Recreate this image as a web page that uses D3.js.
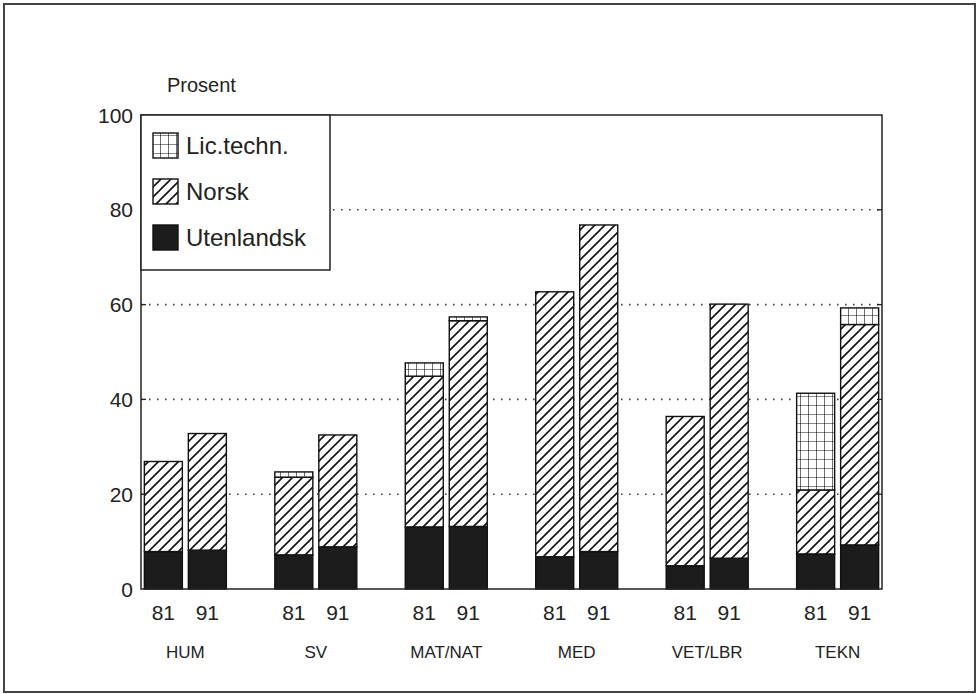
<!DOCTYPE html>
<html><head><meta charset="utf-8">
<script src="https://cdn.jsdelivr.net/npm/d3@7"></script>
<style>body{margin:0;background:#fff}svg{display:block}text{font-family:"Liberation Sans",Arial,sans-serif;fill:#222}</style>
</head><body>
<script>
const groups = ["HUM","SV","MAT/NAT","MED","VET/LBR","TEKN"];
const years = ["81","91"];
// order: group x year
const utenlandsk = [7.9, 8.2, 7.2, 8.9, 13.1, 13.2, 6.8, 7.9, 4.9, 6.5, 7.4, 9.3];
const norsk      = [19.0, 24.6, 16.4, 23.6, 31.8, 43.4, 55.9, 68.9, 31.5, 53.6, 13.5, 46.5];
const lic        = [0, 0, 1.1, 0, 2.8, 0.8, 0, 0, 0, 0, 20.4, 3.5];
const yTicks = [0, 20, 40, 60, 80, 100];
const gridTicks = [20, 40, 60, 80];
const seriesNames = ["Utenlandsk","Norsk","Lic.techn."];
const legendOrder = ["Lic.techn.","Norsk","Utenlandsk"];

const W = 977, H = 694;
const L = 141, R = 882, T = 115, B = 589;
const svg = d3.select("body").append("svg").attr("width", W).attr("height", H);
const defs = svg.append("defs");
const hp = 10;
const hatch = defs.append("pattern").attr("id","hatch").attr("patternUnits","userSpaceOnUse").attr("width",hp).attr("height",hp);
hatch.append("rect").attr("width",hp).attr("height",hp).attr("fill","#fff");
hatch.append("path").attr("d",`M-1,1 L1,-1 M0,${hp} L${hp},0 M${hp-1},${hp+1} L${hp+1},${hp-1}`).attr("stroke","#111").attr("stroke-width",1.6);
const grid = defs.append("pattern").attr("id","grid").attr("patternUnits","userSpaceOnUse").attr("width",8).attr("height",9);
grid.append("rect").attr("width",8).attr("height",9).attr("fill","#fff");
grid.append("path").attr("d","M0,0 V9 M0,0 H8").attr("stroke","#111").attr("stroke-width",1.2);
const fills = {"Utenlandsk":"#1c1c1c","Norsk":"url(#hatch)","Lic.techn.":"url(#grid)"};

// outer frame
svg.append("rect").attr("x",4).attr("y",4).attr("width",971).attr("height",688).attr("fill","none").attr("stroke","#444").attr("stroke-width",2);

const y = d3.scaleLinear().domain([0,100]).range([B,T]);
const x0 = d3.scalePoint().domain(groups).range([L,R]).padding(0.34);
const x1 = d3.scaleBand().domain(years).range([-41,41]).paddingInner(0.136);

// gridlines
svg.append("g").selectAll("line").data(gridTicks).join("line")
  .attr("x1",L).attr("x2",R).attr("y1",d=>y(d)).attr("y2",d=>y(d))
  .attr("stroke","#444").attr("stroke-width",1.6).attr("stroke-dasharray","1.6,6.4");

// data rows
const rows = [];
groups.forEach((g,gi)=>years.forEach((yr,yi)=>{
  const i = gi*2+yi;
  rows.push({g, yr, Utenlandsk: utenlandsk[i], Norsk: norsk[i], "Lic.techn.": lic[i]});
}));
const stack = d3.stack().keys(seriesNames)(rows);
const bars = svg.append("g");
stack.forEach(s=>{
  bars.selectAll(null).data(s.filter(d=>d[1]-d[0]>0)).join("rect")
    .attr("x",d=>x0(d.data.g)+x1(d.data.yr))
    .attr("width",x1.bandwidth())
    .attr("y",d=>y(d[1]))
    .attr("height",d=>y(d[0])-y(d[1]))
    .attr("fill",fills[s.key]).attr("stroke","#111").attr("stroke-width",1.4);
});

// plot frame
svg.append("rect").attr("x",L).attr("y",T).attr("width",R-L).attr("height",B-T).attr("fill","none").attr("stroke","#222").attr("stroke-width",1.5);
// inward ticks
const tk = svg.append("g");
tk.selectAll(".tl").data(gridTicks).join("line").attr("x1",L).attr("x2",L+5).attr("y1",d=>y(d)).attr("y2",d=>y(d)).attr("stroke","#222").attr("stroke-width",1.3);
tk.selectAll(".tr").data(gridTicks).join("line").attr("x1",R-5).attr("x2",R).attr("y1",d=>y(d)).attr("y2",d=>y(d)).attr("stroke","#222").attr("stroke-width",1.3);

// y labels
svg.append("g").selectAll("text").data(yTicks).join("text")
  .attr("x",L-8).attr("y",d=>y(d)).attr("dy","0.36em").attr("text-anchor","end")
  .attr("font-size",21).text(d=>d);
svg.append("text").attr("x",167).attr("y",92).attr("font-size",20).text("Prosent");

// x labels
const xl = svg.append("g");
rows.forEach(r=>{
  xl.append("text").attr("x",x0(r.g)+x1(r.yr)+x1.bandwidth()/2).attr("y",620)
    .attr("text-anchor","middle").attr("font-size",21).text(r.yr);
});
svg.append("g").selectAll("text").data(groups).join("text")
  .attr("x",d=>x0(d)).attr("y",658).attr("text-anchor","middle").attr("font-size",17).text(d=>d);

// legend
const lg = svg.append("g");
lg.append("rect").attr("x",L).attr("y",T).attr("width",189).attr("height",155).attr("fill","#fff").attr("stroke","#222").attr("stroke-width",1.5);
legendOrder.forEach((k,i)=>{
  const cy = 145 + i*46;
  lg.append("rect").attr("x",153).attr("y",cy-12).attr("width",25).attr("height",25)
    .attr("fill",fills[k]).attr("stroke","#111").attr("stroke-width",1.4);
  lg.append("text").attr("x",186).attr("y",cy).attr("dy","0.36em").attr("font-size",24).text(k);
});
</script>
</body></html>
